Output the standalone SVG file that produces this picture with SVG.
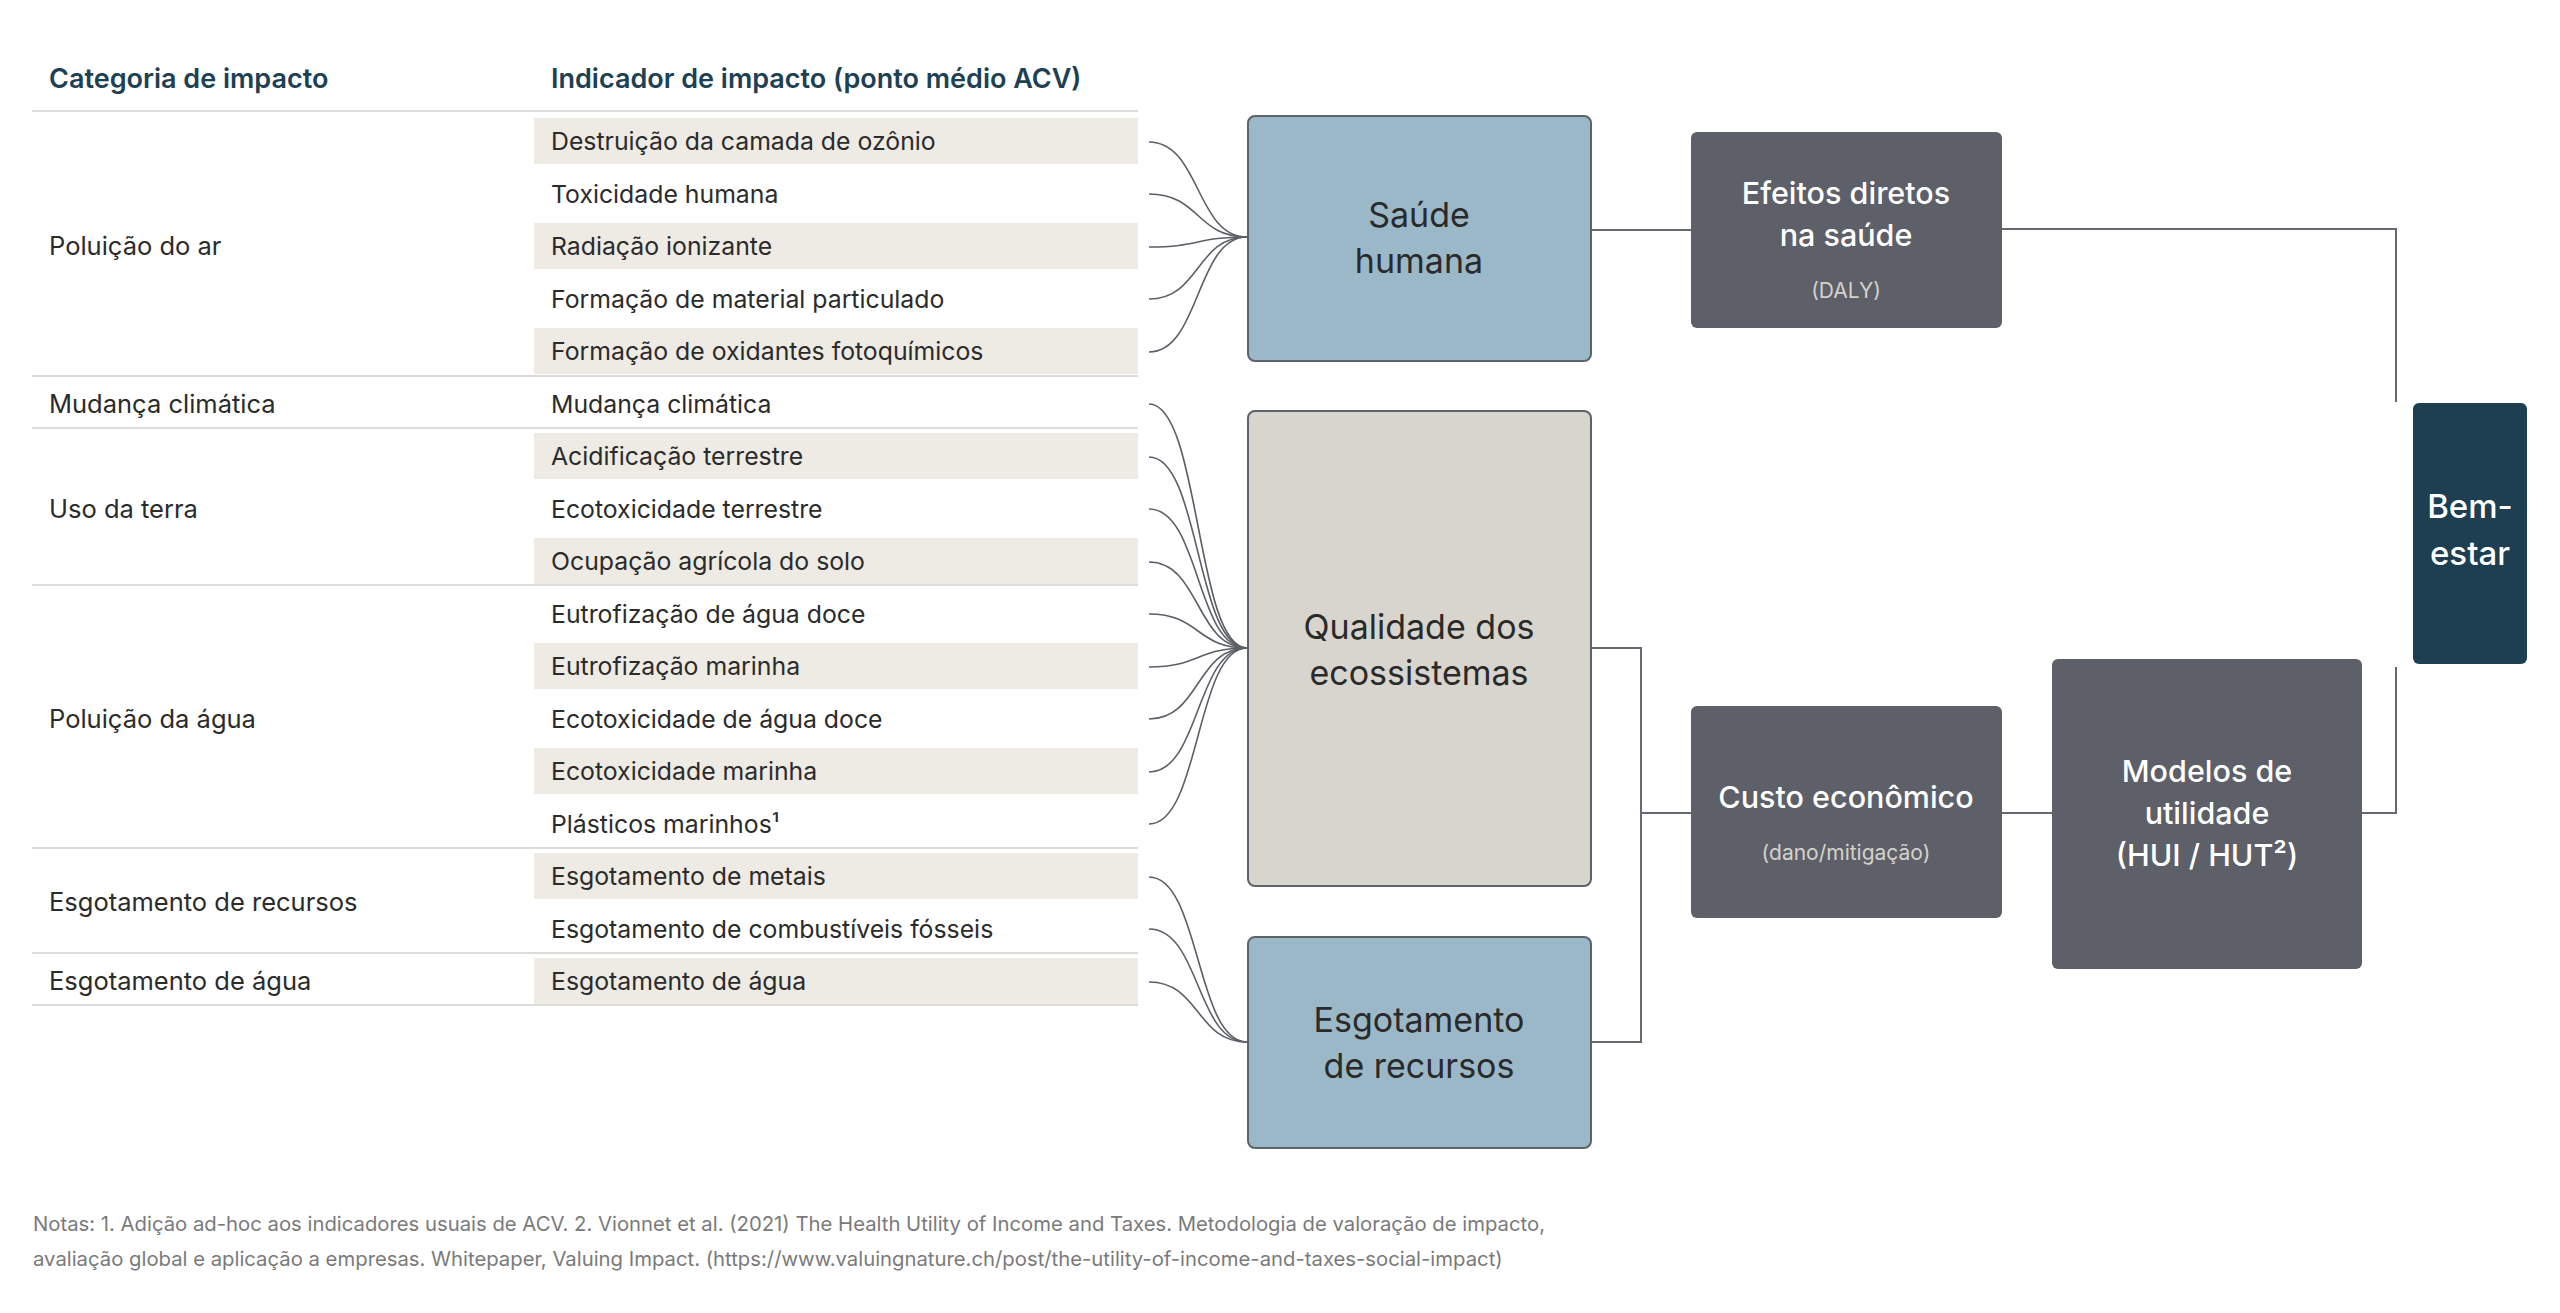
<svg xmlns="http://www.w3.org/2000/svg" width="2560" height="1313" viewBox="0 0 2560 1313">
<style>
text{font-family:Inter,"Noto Sans","Liberation Sans",sans-serif}
.hd{font-size:27px;font-weight:600;fill:#1d4053}
.row{font-size:24.8px;fill:#2b2b2b}
.cat{font-size:25.5px;fill:#2b2b2b}
.band{fill:#eeeae4}
.sep{stroke:#dcdcd8;stroke-width:2}
.fan{fill:none;stroke:#5b5f66;stroke-width:1.6}
.elb{fill:none;stroke:#666a70;stroke-width:2}
.nb{stroke:#5e6269;stroke-width:2}
.big{font-size:34px;fill:#2a2a2a;text-anchor:middle}
.wt{font-size:30.5px;fill:#ffffff;text-anchor:middle;font-weight:500}
.sm{font-size:21px;fill:#d5d2cb;text-anchor:middle}
.note{font-size:20.3px;fill:#7a7a7a}
</style>
<g id="table">
<text class="hd" x="49" y="88">Categoria de impacto</text>
<text class="hd" x="551" y="88">Indicador de impacto (ponto médio ACV)</text>
<line class="sep" x1="32" y1="111" x2="1138" y2="111"/>
<rect class="band" x="534" y="118" width="604" height="46"/>
<rect class="band" x="534" y="223" width="604" height="46"/>
<rect class="band" x="534" y="328" width="604" height="46"/>
<rect class="band" x="534" y="433" width="604" height="46"/>
<rect class="band" x="534" y="538" width="604" height="46"/>
<rect class="band" x="534" y="643" width="604" height="46"/>
<rect class="band" x="534" y="748" width="604" height="46"/>
<rect class="band" x="534" y="853" width="604" height="46"/>
<rect class="band" x="534" y="958" width="604" height="46"/>
<line class="sep" x1="32" y1="376" x2="1138" y2="376"/>
<line class="sep" x1="32" y1="428" x2="1138" y2="428"/>
<line class="sep" x1="32" y1="585" x2="1138" y2="585"/>
<line class="sep" x1="32" y1="848" x2="1138" y2="848"/>
<line class="sep" x1="32" y1="953" x2="1138" y2="953"/>
<line class="sep" x1="32" y1="1005" x2="1138" y2="1005"/>
<text class="cat" x="49" y="255">Poluição do ar</text>
<text class="cat" x="49" y="413">Mudança climática</text>
<text class="cat" x="49" y="518">Uso da terra</text>
<text class="cat" x="49" y="728">Poluição da água</text>
<text class="cat" x="49" y="911">Esgotamento de recursos</text>
<text class="cat" x="49" y="990">Esgotamento de água</text>
<text class="row" x="551" y="150">Destruição da camada de ozônio</text>
<text class="row" x="551" y="203">Toxicidade humana</text>
<text class="row" x="551" y="255">Radiação ionizante</text>
<text class="row" x="551" y="308">Formação de material particulado</text>
<text class="row" x="551" y="360">Formação de oxidantes fotoquímicos</text>
<text class="row" x="551" y="413">Mudança climática</text>
<text class="row" x="551" y="465">Acidificação terrestre</text>
<text class="row" x="551" y="518">Ecotoxicidade terrestre</text>
<text class="row" x="551" y="570">Ocupação agrícola do solo</text>
<text class="row" x="551" y="623">Eutrofização de água doce</text>
<text class="row" x="551" y="675">Eutrofização marinha</text>
<text class="row" x="551" y="728">Ecotoxicidade de água doce</text>
<text class="row" x="551" y="780">Ecotoxicidade marinha</text>
<text class="row" x="551" y="833">Plásticos marinhos¹</text>
<text class="row" x="551" y="885">Esgotamento de metais</text>
<text class="row" x="551" y="938">Esgotamento de combustíveis fósseis</text>
<text class="row" x="551" y="990">Esgotamento de água</text>
</g>
<g id="connectors">
<path class="fan" d="M1149,142 C1200,142 1196,237 1247,237"/>
<path class="fan" d="M1149,194 C1200,194 1196,237 1247,237"/>
<path class="fan" d="M1149,247 C1200,247 1196,237 1247,237"/>
<path class="fan" d="M1149,299 C1200,299 1196,237 1247,237"/>
<path class="fan" d="M1149,352 C1200,352 1196,237 1247,237"/>
<path class="fan" d="M1149,404 C1200,404 1196,648 1247,648"/>
<path class="fan" d="M1149,457 C1200,457 1196,648 1247,648"/>
<path class="fan" d="M1149,509 C1200,509 1196,648 1247,648"/>
<path class="fan" d="M1149,562 C1200,562 1196,648 1247,648"/>
<path class="fan" d="M1149,614 C1200,614 1196,648 1247,648"/>
<path class="fan" d="M1149,667 C1200,667 1196,648 1247,648"/>
<path class="fan" d="M1149,719 C1200,719 1196,648 1247,648"/>
<path class="fan" d="M1149,772 C1200,772 1196,648 1247,648"/>
<path class="fan" d="M1149,824 C1200,824 1196,648 1247,648"/>
<path class="fan" d="M1149,877 C1200,877 1196,1042 1247,1042"/>
<path class="fan" d="M1149,929 C1200,929 1196,1042 1247,1042"/>
<path class="fan" d="M1149,982 C1200,982 1196,1042 1247,1042"/>
<path class="elb" d="M1592,230 H1691"/>
<path class="elb" d="M1592,648 H1641 V1042 H1592"/>
<path class="elb" d="M1641,813 H1691"/>
<path class="elb" d="M2002,813 H2052"/>
<path class="elb" d="M2002,229 H2396 V402"/>
<path class="elb" d="M2362,813 H2396 V667"/>
</g>
<g id="saude">
<rect class="nb" x="1248" y="116" width="343" height="245" rx="7" fill="#9bb8c9"/>
<text class="big" x="1419" y="227">Saúde</text>
<text class="big" x="1419" y="273">humana</text>
</g>
<g id="qualidade">
<rect class="nb" x="1248" y="411" width="343" height="475" rx="7" fill="#d7d5ce"/>
<text class="big" x="1419" y="639">Qualidade dos</text>
<text class="big" x="1419" y="685">ecossistemas</text>
</g>
<g id="esgotamento">
<rect class="nb" x="1248" y="937" width="343" height="211" rx="7" fill="#9bb8c9"/>
<text class="big" x="1419" y="1032">Esgotamento</text>
<text class="big" x="1419" y="1078">de recursos</text>
</g>
<g id="efeitos">
<rect x="1691" y="132" width="311" height="196" rx="6" fill="#5d6068"/>
<text class="wt" x="1846" y="204">Efeitos diretos</text>
<text class="wt" x="1846" y="246">na saúde</text>
<text class="sm" x="1846" y="298">(DALY)</text>
</g>
<g id="custo">
<rect x="1691" y="706" width="311" height="212" rx="6" fill="#5d6068"/>
<text class="wt" x="1846" y="808">Custo econômico</text>
<text class="sm" x="1846" y="860">(dano/mitigação)</text>
</g>
<g id="modelos">
<rect x="2052" y="659" width="310" height="310" rx="6" fill="#5d6068"/>
<text class="wt" x="2207" y="782">Modelos de</text>
<text class="wt" x="2207" y="824">utilidade</text>
<text class="wt" x="2207" y="866">(HUI / HUT²)</text>
</g>
<g id="bemestar">
<rect x="2413" y="403" width="114" height="261" rx="6" fill="#1d3f51"/>
<text class="wt" x="2470" y="518" style="font-size:33px">Bem-</text>
<text class="wt" x="2470" y="565" style="font-size:33px">estar</text>
</g>
<g id="notes">
<text class="note" x="33" y="1231">Notas: 1. Adição ad-hoc aos indicadores usuais de ACV. 2. Vionnet et al. (2021) The Health Utility of Income and Taxes. Metodologia de valoração de impacto,</text>
<text class="note" x="33" y="1266">avaliação global e aplicação a empresas. Whitepaper, Valuing Impact. (https://www.valuingnature.ch/post/the-utility-of-income-and-taxes-social-impact)</text>
</g>
</svg>
